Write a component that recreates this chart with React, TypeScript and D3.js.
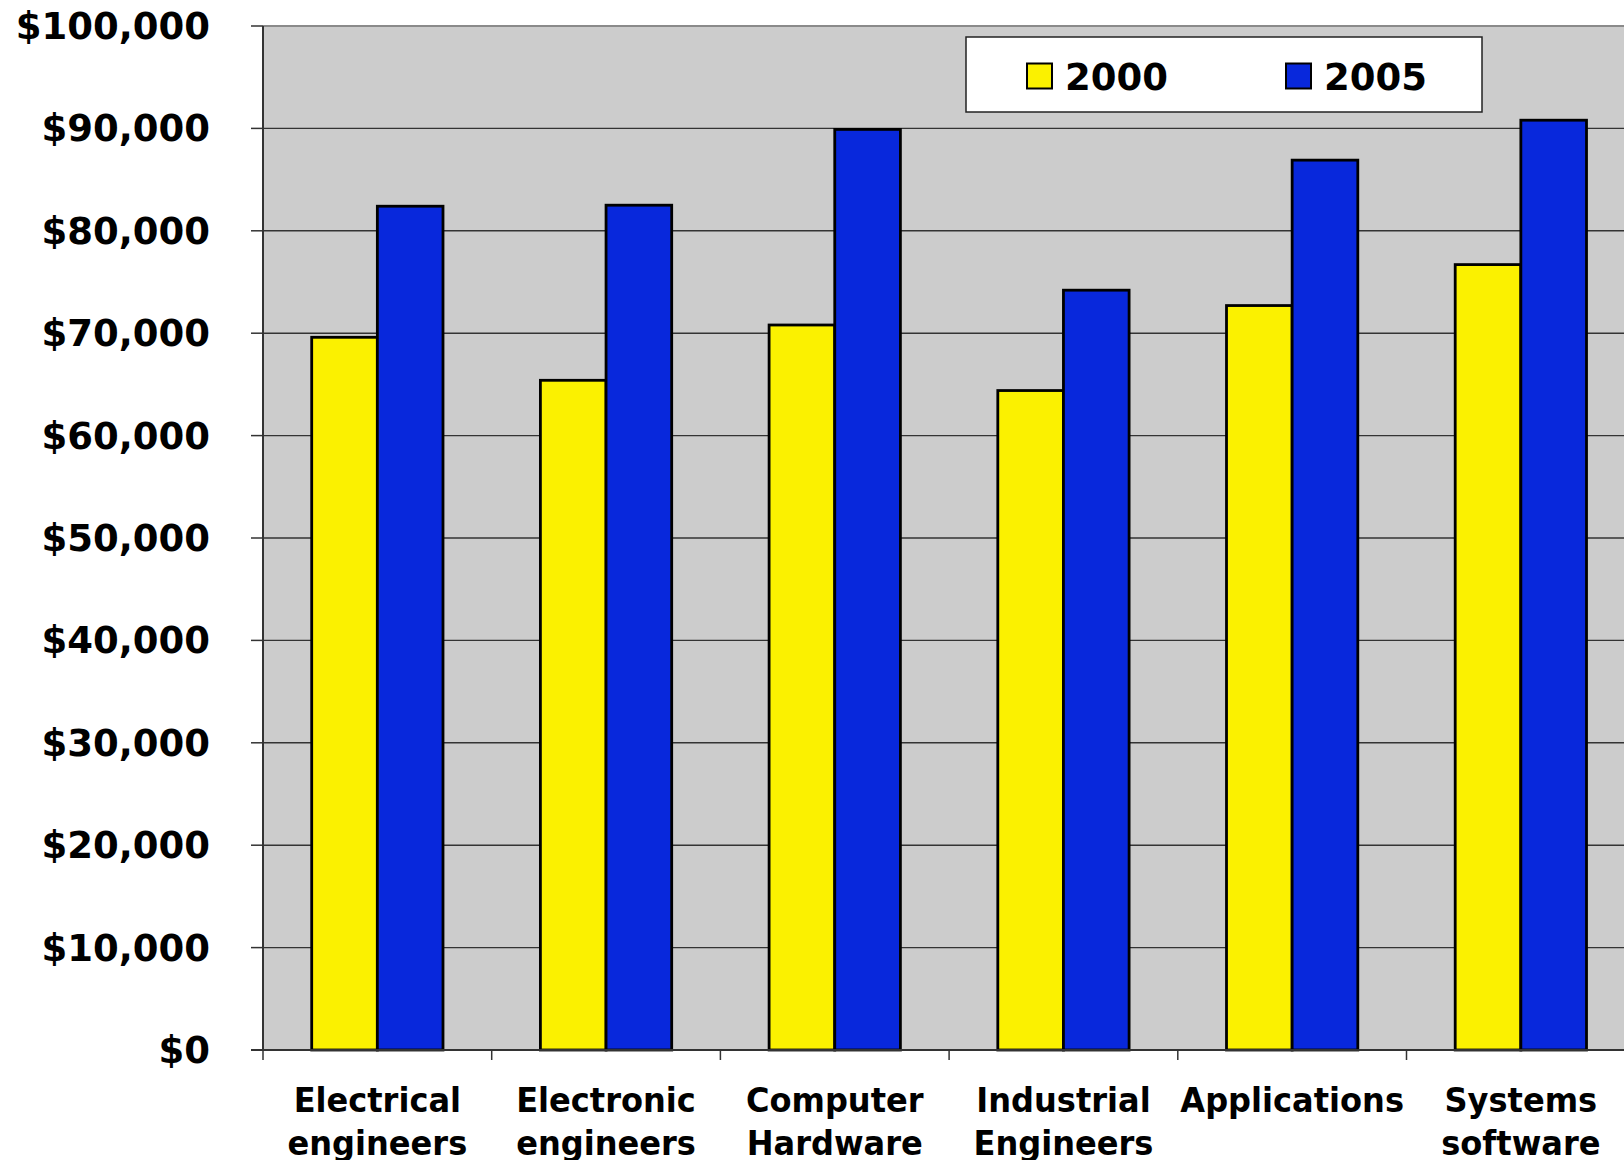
import React from "react";
import * as d3 from "d3";

const categories: string[][] = [
  ["Electrical", "engineers"],
  ["Electronic", "engineers"],
  ["Computer", "Hardware"],
  ["Industrial", "Engineers"],
  ["Applications"],
  ["Systems", "software"],
];
const seriesNames = ["2000", "2005"];
const values2000 = [69600, 65400, 70800, 64400, 72700, 76700];
const values2005 = [82400, 82500, 89900, 74200, 86900, 90800];
const yTicks = [0, 10000, 20000, 30000, 40000, 50000, 60000, 70000, 80000, 90000, 100000];
const colors = ["#FBF100", "#0828DC"];

const W = 1624;
const H = 1160;
const plotLeft = 263;
const plotTop = 26;
const plotBottom = 1050;
const bandW = 228.7;

export default function App() {
  const x = d3
    .scaleBand<number>()
    .domain(d3.range(categories.length))
    .range([plotLeft, plotLeft + bandW * categories.length])
    .paddingInner(0)
    .paddingOuter(0);
  const inner = d3
    .scaleBand<number>()
    .domain([0, 1])
    .range([48.7, bandW - 48.7]);
  const y = d3.scaleLinear().domain([0, 100000]).range([plotBottom, plotTop]);
  const fmt = (v: number) => "$" + d3.format(",")(v);
  const series = [values2000, values2005];
  const font = "'DejaVu Sans', Verdana, sans-serif";

  return (
    <div style={{ position: "absolute", left: 0, top: 0 }}>
      <svg width={W} height={H} style={{ display: "block", background: "#fff" }}>
        <rect x={plotLeft} y={plotTop} width={W - plotLeft} height={plotBottom - plotTop} fill="#CCCCCC" />
        <line x1={plotLeft} x2={W} y1={plotTop} y2={plotTop} stroke="#8a8a8a" strokeWidth={2} />
        {yTicks.map((t) =>
          t > 0 && t < 100000 ? (
            <line key={"g" + t} x1={plotLeft} x2={W} y1={y(t)} y2={y(t)} stroke="#333" strokeWidth={1.4} />
          ) : null
        )}
        {series.map((vals, si) =>
          vals.map((v, i) => (
            <rect
              key={si + "-" + i}
              x={(x(i) as number) + (inner(si) as number)}
              y={y(v)}
              width={inner.bandwidth()}
              height={plotBottom - y(v)}
              fill={colors[si]}
              stroke="#000"
              strokeWidth={2.8}
            />
          ))
        )}
        <line x1={plotLeft} x2={plotLeft} y1={plotTop} y2={plotBottom} stroke="#333" strokeWidth={2} />
        <line x1={plotLeft - 12} x2={W} y1={plotBottom} y2={plotBottom} stroke="#333" strokeWidth={2} />
        {yTicks.map((t) => (
          <g key={"t" + t}>
            <line x1={plotLeft - 12} x2={plotLeft} y1={y(t)} y2={y(t)} stroke="#333" strokeWidth={1.5} />
            <text
              x={210}
              y={y(t) + 13}
              textAnchor="end"
              fontFamily={font}
              fontWeight="bold"
              fontSize={37}
              fill="#000"
            >
              {fmt(t)}
            </text>
          </g>
        ))}
        {d3.range(categories.length + 1).map((i) => (
          <line
            key={"xt" + i}
            x1={plotLeft + i * bandW}
            x2={plotLeft + i * bandW}
            y1={plotBottom}
            y2={plotBottom + 10}
            stroke="#333"
            strokeWidth={1.5}
          />
        ))}
        {categories.map((lines, i) => {
          const cx = (x(i) as number) + x.bandwidth() / 2;
          return (
            <g key={"xl" + i} transform={`translate(${cx},0) scale(0.93,1)`}>
              {lines.map((ln, li) => (
                <text
                  key={li}
                  x={0}
                  y={1112 + li * 43}
                  textAnchor="middle"
                  fontFamily={font}
                  fontWeight="bold"
                  fontSize={34.5}
                  fill="#000"
                >
                  {ln}
                </text>
              ))}
            </g>
          );
        })}
        <rect x={966} y={37} width={516} height={75} fill="#fff" stroke="#222" strokeWidth={1.5} />
        {seriesNames.map((s, si) => {
          const lx = si === 0 ? 1027 : 1286;
          return (
            <g key={"lg" + s}>
              <rect x={lx} y={63.5} width={25} height={25} fill={colors[si]} stroke="#000" strokeWidth={2} />
              <text x={lx + 38} y={90} fontFamily={font} fontWeight="bold" fontSize={37} fill="#000">
                {s}
              </text>
            </g>
          );
        })}
      </svg>
    </div>
  );
}
